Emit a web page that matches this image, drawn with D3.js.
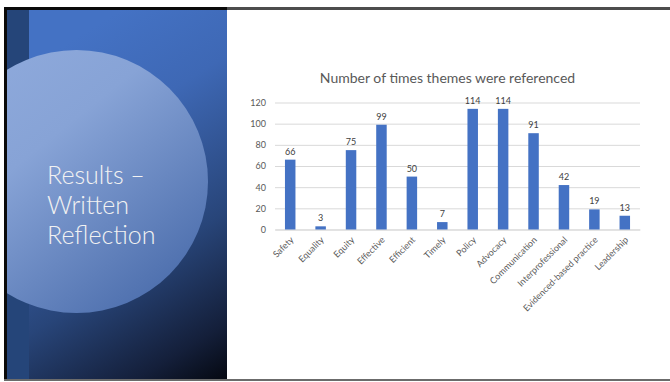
<!DOCTYPE html>
<html>
<head>
<meta charset="utf-8">
<script src="https://cdn.jsdelivr.net/npm/d3@7"></script>
<style>
  body { margin: 0; background: #fff; }
  svg { display: block; }
  .tick text { font-family: Lato, 'Liberation Sans', sans-serif; fill: #595959; }
</style>
</head>
<body>
<div id="slide"></div>
<script>
// chart values
var themes = ['Safety', 'Equality', 'Equity', 'Effective', 'Efficient', 'Timely',
    'Policy', 'Advocacy', 'Communication', 'Interprofessional', 'Evidenced-based practice', 'Leadership']
var counts = [66, 3, 75, 99, 50, 7, 114, 114, 91, 42, 19, 13]
var yTicks = [0, 20, 40, 60, 80, 100, 120]
var chartTitle = 'Number of times themes were referenced'
var slideTitle = ['Results \u2013', 'Written', 'Reflection']

var width = 670
var height = 382

var svg = d3.select('#slide')
    .append('svg')
    .attr('width', width)
    .attr('height', height)

var defs = svg.append('defs')

// panel gradient
var pg = defs.append('linearGradient')
    .attr('id', 'panelGrad')
    .attr('gradientUnits', 'userSpaceOnUse')
    .attr('x1', 40).attr('y1', 60)
    .attr('x2', 240).attr('y2', 382)
pg.append('stop').attr('offset', 0).attr('stop-color', '#4472C4')
pg.append('stop').attr('offset', 0.25).attr('stop-color', '#3e68b5')
pg.append('stop').attr('offset', 0.6).attr('stop-color', '#284579')
pg.append('stop').attr('offset', 0.85).attr('stop-color', '#141f3a')
pg.append('stop').attr('offset', 1).attr('stop-color', '#020409')

var cg = defs.append('linearGradient')
    .attr('id', 'circGrad')
    .attr('x1', 0).attr('y1', 0)
    .attr('x2', 0.8).attr('y2', 1)
cg.append('stop').attr('offset', 0).attr('stop-color', '#90abdd')
cg.append('stop').attr('offset', 0.4).attr('stop-color', '#87a3d6')
cg.append('stop').attr('offset', 1).attr('stop-color', '#4a6cab')

defs.append('clipPath').attr('id', 'panelClip')
    .append('rect')
    .attr('x', 7).attr('y', 10)
    .attr('width', 220).attr('height', 369)

// left panel
var panel = svg.append('g').attr('clip-path', 'url(#panelClip)')

panel.append('rect')
    .attr('x', 7).attr('y', 10)
    .attr('width', 220).attr('height', 369)
    .attr('fill', 'url(#panelGrad)')

panel.append('rect')
    .attr('x', 7).attr('y', 10)
    .attr('width', 22).attr('height', 369)
    .attr('fill', '#254579')

panel.append('circle')
    .attr('cx', 76.5).attr('cy', 181.5)
    .attr('r', 131.5)
    .attr('fill', 'url(#circGrad)')

panel.append('text')
    .attr('font-family', 'Lato, sans-serif')
    .attr('font-weight', 300)
    .attr('font-size', 25)
    .attr('fill', '#f2f2f2')
    .selectAll('tspan')
    .data(slideTitle)
    .enter()
    .append('tspan')
    .attr('x', 47)
    .attr('y', (d, i) => 184 + i * 30)
    .text((d) => d)

// borders
svg.append('rect').attr('x', 4).attr('y', 7).attr('width', 223).attr('height', 3).attr('fill', '#0a0a0a')
svg.append('rect').attr('x', 227).attr('y', 7).attr('width', 443).attr('height', 3).attr('fill', '#4d4d4d')
svg.append('rect').attr('x', 4).attr('y', 7).attr('width', 3).attr('height', 374).attr('fill', '#0a0a0a')
svg.append('rect').attr('x', 4).attr('y', 379).attr('width', 666).attr('height', 2).attr('fill', '#6b6b6b')

// chart
var plotLeft = 275
var plotRight = 640
var plotTop = 102.5
var plotBottom = 229.5

var xScale = d3.scaleBand()
    .domain(themes)
    .range([plotLeft, plotRight])
    .paddingInner(0.655)
    .paddingOuter(0.3275)

var yScale = d3.scaleLinear()
    .domain([0, 120])
    .range([plotBottom, plotTop])

svg.append('text')
    .attr('x', 447.5)
    .attr('y', 83)
    .attr('text-anchor', 'middle')
    .attr('font-family', 'Lato, sans-serif')
    .attr('font-size', 14)
    .attr('fill', '#595959')
    .text(chartTitle)

var yAxis = d3.axisLeft(yScale)
    .tickValues(yTicks)
    .tickSize(-(plotRight - plotLeft))
    .tickPadding(9)

svg.append('g')
    .attr('class', 'y axis')
    .attr('transform', 'translate(' + plotLeft + ',0)')
    .call(yAxis)
    .call((g) => g.select('.domain').remove())
    .call((g) => g.selectAll('.tick line').attr('stroke', '#d9d9d9'))
    .call((g) => g.selectAll('.tick text').attr('font-size', 9))

var xAxis = d3.axisBottom(xScale).tickSize(0).tickPadding(0)

svg.append('g')
    .attr('class', 'x axis')
    .attr('transform', 'translate(0,' + plotBottom + ')')
    .call(xAxis)
    .call((g) => g.select('.domain').attr('stroke', '#d9d9d9'))
    .call((g) => g.selectAll('.tick text')
        .attr('font-size', 9)
        .attr('text-anchor', 'end')
        .attr('dy', 0)
        .attr('y', 0)
        .attr('transform', 'translate(4,11) rotate(-45)'))

var bars = svg.selectAll('g.bar')
    .data(themes)
    .enter()

bars.append('rect')
    .attr('x', (d) => xScale(d))
    .attr('y', (d, i) => yScale(counts[i]))
    .attr('width', xScale.bandwidth())
    .attr('height', (d, i) => plotBottom - yScale(counts[i]))
    .attr('fill', '#4472C4')

bars.append('text')
    .attr('x', (d) => xScale(d) + xScale.bandwidth() / 2)
    .attr('y', (d, i) => yScale(counts[i]) - 5)
    .attr('text-anchor', 'middle')
    .attr('font-family', 'Lato, sans-serif')
    .attr('font-size', 9)
    .attr('fill', '#404040')
    .text((d, i) => counts[i])
</script>
</body>
</html>
